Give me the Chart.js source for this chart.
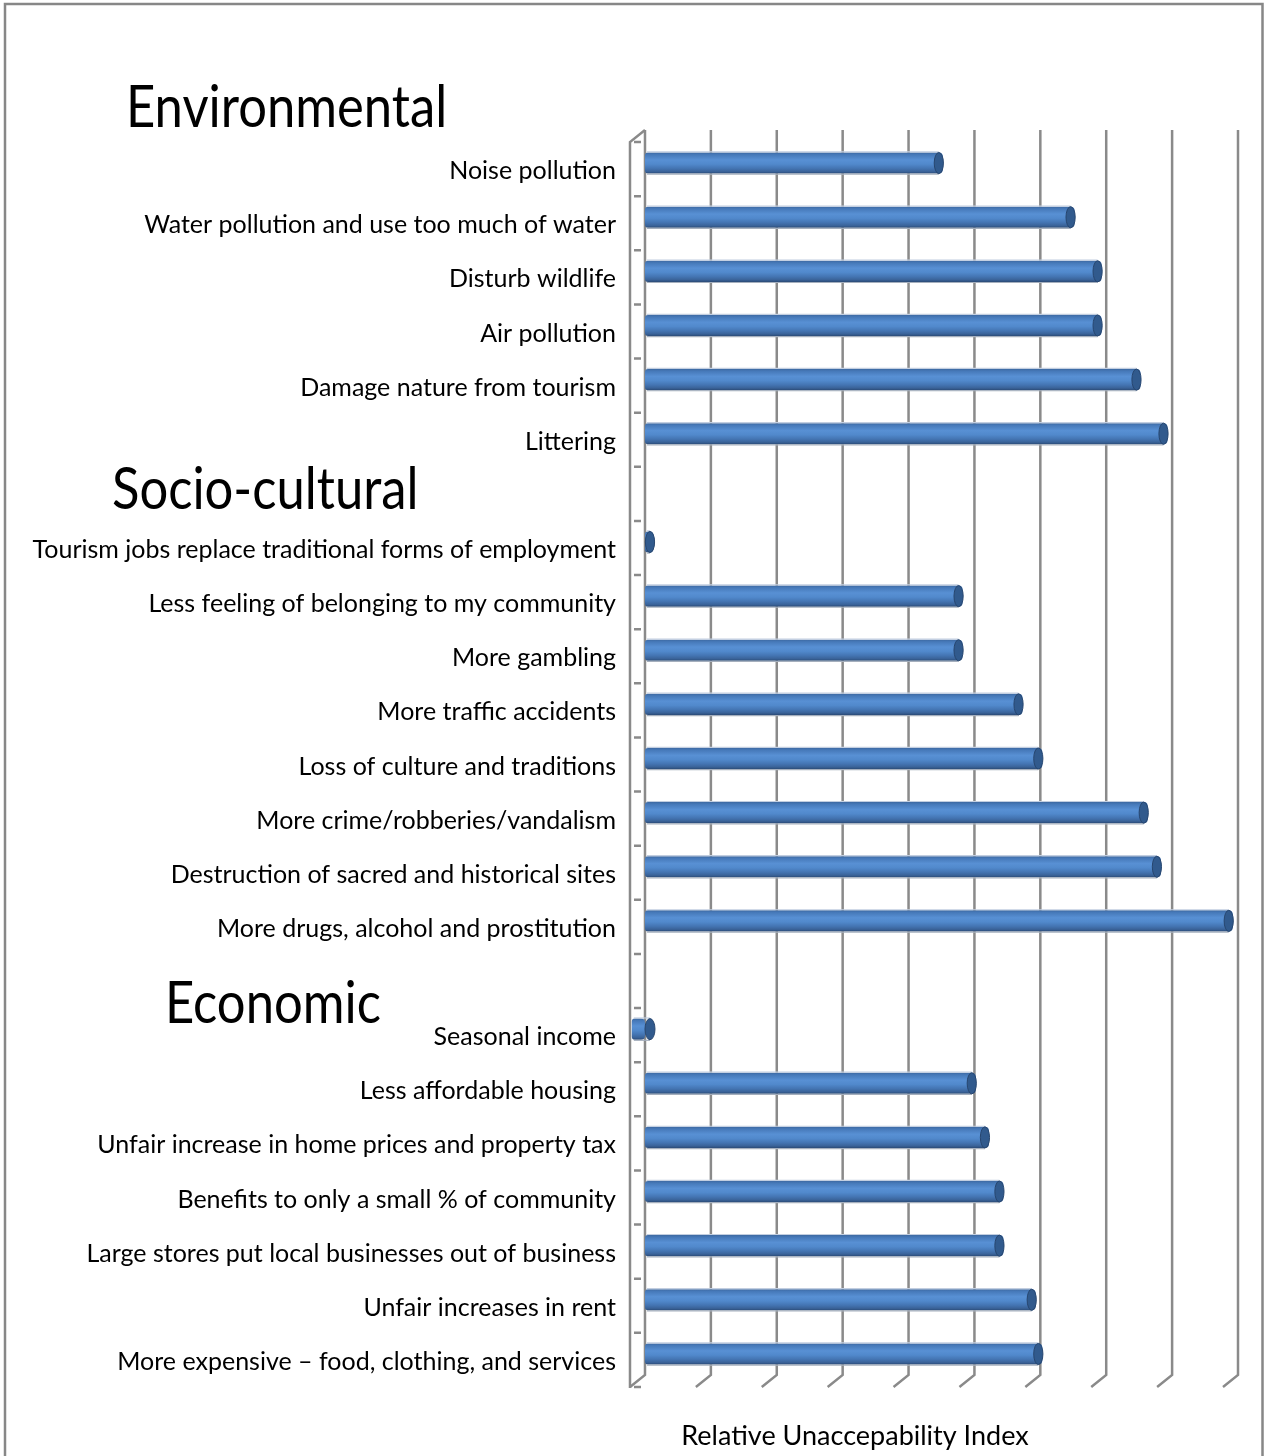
<!DOCTYPE html>
<html>
<head>
<meta charset="utf-8">
<title>Relative Unaccepability Index</title>
<script src="https://cdn.jsdelivr.net/npm/chart.js"></script>
<style>
  html, body { margin: 0; padding: 0; background: #fff; }
  #wrap { width: 1265px; height: 1456px; }
</style>
</head>
<body>
<div id="wrap"><canvas id="impacts-chart" width="1265" height="1456"></canvas></div>
<script>
// rows top to bottom; '' = empty row that holds a group heading
const categories = [
    'Noise pollution',
    'Water pollution and use too much of water',
    'Disturb wildlife',
    'Air pollution',
    'Damage nature from tourism',
    'Littering',
    '',
    'Tourism jobs replace traditional forms of employment',
    'Less feeling of belonging to my community',
    'More gambling',
    'More traffic accidents',
    'Loss of culture and traditions',
    'More crime/robberies/vandalism',
    'Destruction of sacred and historical sites',
    'More drugs, alcohol and prostitution',
    '',
    'Seasonal income',
    'Less affordable housing',
    'Unfair increase in home prices and property tax',
    'Benefits to only a small % of community',
    'Large stores put local businesses out of business',
    'Unfair increases in rent',
    'More expensive \u2013 food, clothing, and services'
];

// index values read off the gridlines (no tick labels in the original)
const values = [
    4.52, 6.52, 6.93, 6.93, 7.52, 7.93,
    null,
    0.13, 4.82, 4.82, 5.73, 6.03, 7.63, 7.83, 8.92,
    null,
    -0.2, 5.02, 5.22, 5.44, 5.44, 5.93, 6.03
];

const gridTicks = [0, 1, 2, 3, 4, 5, 6, 7, 8, 9];
const groupHeadings = ['Environmental', 'Socio-cultural', 'Economic'];
const axisTitle = 'Relative Unaccepability Index';

const FONT = 'Lato';
const BAR_PCT = 0.39;

// cylinder shading, built from the category pixel of each bar
function cylinderFill(context) {
    const chart = context.chart;
    const yScale = chart.scales.y;
    if (!yScale || context.dataIndex === undefined) return '#4f81bd';
    const cy = yScale.getPixelForValue(context.dataIndex);
    const half = (yScale.height / categories.length) * BAR_PCT / 2;
    if (!isFinite(cy) || !isFinite(half) || half <= 0) return '#4f81bd';
    const g = chart.ctx.createLinearGradient(0, cy - half, 0, cy + half);
    g.addColorStop(0, '#3d69a2');
    g.addColorStop(0.1, '#4679b9');
    g.addColorStop(0.35, '#5890d4');
    g.addColorStop(0.55, '#5189cc');
    g.addColorStop(0.75, '#4475b3');
    g.addColorStop(0.9, '#3a6399');
    g.addColorStop(1, '#2b4b77');
    return g;
}

// grey 3D frame: back gridlines, slanted floor bits, left wall with ticks
const frame3d = {
    id: 'frame3d',
    beforeDraw(chart) {
        const ctx = chart.ctx;
        ctx.save();
        ctx.strokeStyle = '#878787';
        ctx.lineWidth = 2.5;
        ctx.strokeRect(5, 4, 1257.5, 1520);
        ctx.restore();
    },
    beforeDatasetsDraw(chart) {
        const { ctx, chartArea, scales: { x } } = chart;
        const dx = 15, dy = 6;
        const backTop = chartArea.top - dy;
        const backBottom = chartArea.bottom - dy;
        const x0 = x.getPixelForValue(0);
        const rowH = (chartArea.bottom - chartArea.top) / categories.length;

        ctx.save();
        ctx.strokeStyle = '#8a8a8a';
        ctx.lineWidth = 2.5;
        gridTicks.forEach(t => {
            const px = x.getPixelForValue(t);
            ctx.beginPath();
            ctx.moveTo(px, backTop);
            ctx.lineTo(px, backBottom);
            ctx.lineTo(px - dx, backBottom + 2 * dy);
            ctx.stroke();
        });

        // left wall
        ctx.beginPath();
        ctx.moveTo(x0, backTop);
        ctx.lineTo(x0 - dx, backTop + 2 * dy);
        ctx.lineTo(x0 - dx, backBottom + 2 * dy + 1);
        ctx.stroke();

        // small category ticks on the wall
        ctx.beginPath();
        for (let i = 0; i <= categories.length; i++) {
            const ty = chartArea.top + dy + i * rowH;
            ctx.moveTo(x0 - dx + 4, ty);
            ctx.lineTo(x0 - 4, ty);
        }
        ctx.stroke();
        ctx.restore();
    },
    afterDatasetsDraw(chart) {
        const ctx = chart.ctx;
        const meta = chart.getDatasetMeta(0);
        ctx.save();
        meta.data.forEach((bar, i) => {
            if (values[i] === null) return;
            const p = bar.getProps(['x', 'y', 'base', 'height'], true);
            const half = p.height / 2;
            const capX = values[i] < 0 ? p.base + 5 : Math.max(p.x - 4, p.base + 5);
            const left = Math.min(p.x, p.base);

            // faint edge highlight above and shadow below
            ctx.lineWidth = 1.2;
            ctx.strokeStyle = '#c2cee0';
            ctx.beginPath();
            ctx.moveTo(left + 2, p.y - half - 0.6);
            ctx.lineTo(capX, p.y - half - 0.6);
            ctx.stroke();
            ctx.strokeStyle = '#a5afbd';
            ctx.beginPath();
            ctx.moveTo(left + 2, p.y + half + 0.6);
            ctx.lineTo(capX, p.y + half + 0.6);
            ctx.stroke();

            // end cap
            ctx.fillStyle = '#315a8d';
            ctx.beginPath();
            ctx.ellipse(capX, p.y, values[i] < 0 ? 5 : 4.6, half, 0, 0, Math.PI * 2);
            ctx.fill();
            ctx.strokeStyle = '#27466f';
            ctx.lineWidth = 1;
            ctx.stroke();
        });
        ctx.restore();
    },
    afterDraw(chart) {
        const { ctx, scales: { y } } = chart;
        // heading placement: left x and row position
        const headingPos = [
            { x: 126, row: -1.05 },
            { x: 112, row: 6 },
            { x: 165, row: 15.5 }
        ];
        ctx.save();
        ctx.fillStyle = '#000';
        ctx.font = `58px ${FONT}`;
        ctx.textBaseline = 'alphabetic';
        groupHeadings.forEach((h, i) => {
            const cy = y.getPixelForValue(headingPos[i].row);
            ctx.save();
            ctx.translate(headingPos[i].x, cy + 21);
            ctx.scale(0.875, 1);
            ctx.fillText(h, 0, 0);
            ctx.restore();
        });

        ctx.font = `27px ${FONT}`;
        ctx.textAlign = 'center';
        ctx.fillText(axisTitle, 855, 1445);
        ctx.restore();
    }
};

const chart = new Chart(document.getElementById('impacts-chart'), {
    type: 'bar',
    data: {
        labels: categories,
        datasets: [{
            data: values,
            backgroundColor: cylinderFill,
            borderWidth: 0,
            borderRadius: { topLeft: 3, bottomLeft: 3, topRight: 4, bottomRight: 4 },
            borderSkipped: false,
            barPercentage: BAR_PCT,
            categoryPercentage: 1
        }]
    },
    options: {
        indexAxis: 'y',
        responsive: false,
        devicePixelRatio: 1,
        animation: false,
        layout: { padding: { left: 0, right: 27, top: 136, bottom: 75 } },
        plugins: {
            legend: { display: false },
            tooltip: { enabled: false }
        },
        scales: {
            x: {
                type: 'linear',
                min: -0.2275,
                max: 9,
                grid: { display: false, drawTicks: false },
                border: { display: false },
                ticks: { display: false },
                afterFit(scale) { scale.height = 0; }
            },
            y: {
                grid: { display: false, drawTicks: false },
                border: { display: false },
                ticks: {
                    autoSkip: false,
                    color: '#000',
                    padding: 14,
                    labelOffset: 8,
                    font: { family: FONT, size: 25 }
                },
                afterFit(scale) { scale.width = 630; }
            }
        }
    },
    plugins: [frame3d]
});
</script>
</body>
</html>
